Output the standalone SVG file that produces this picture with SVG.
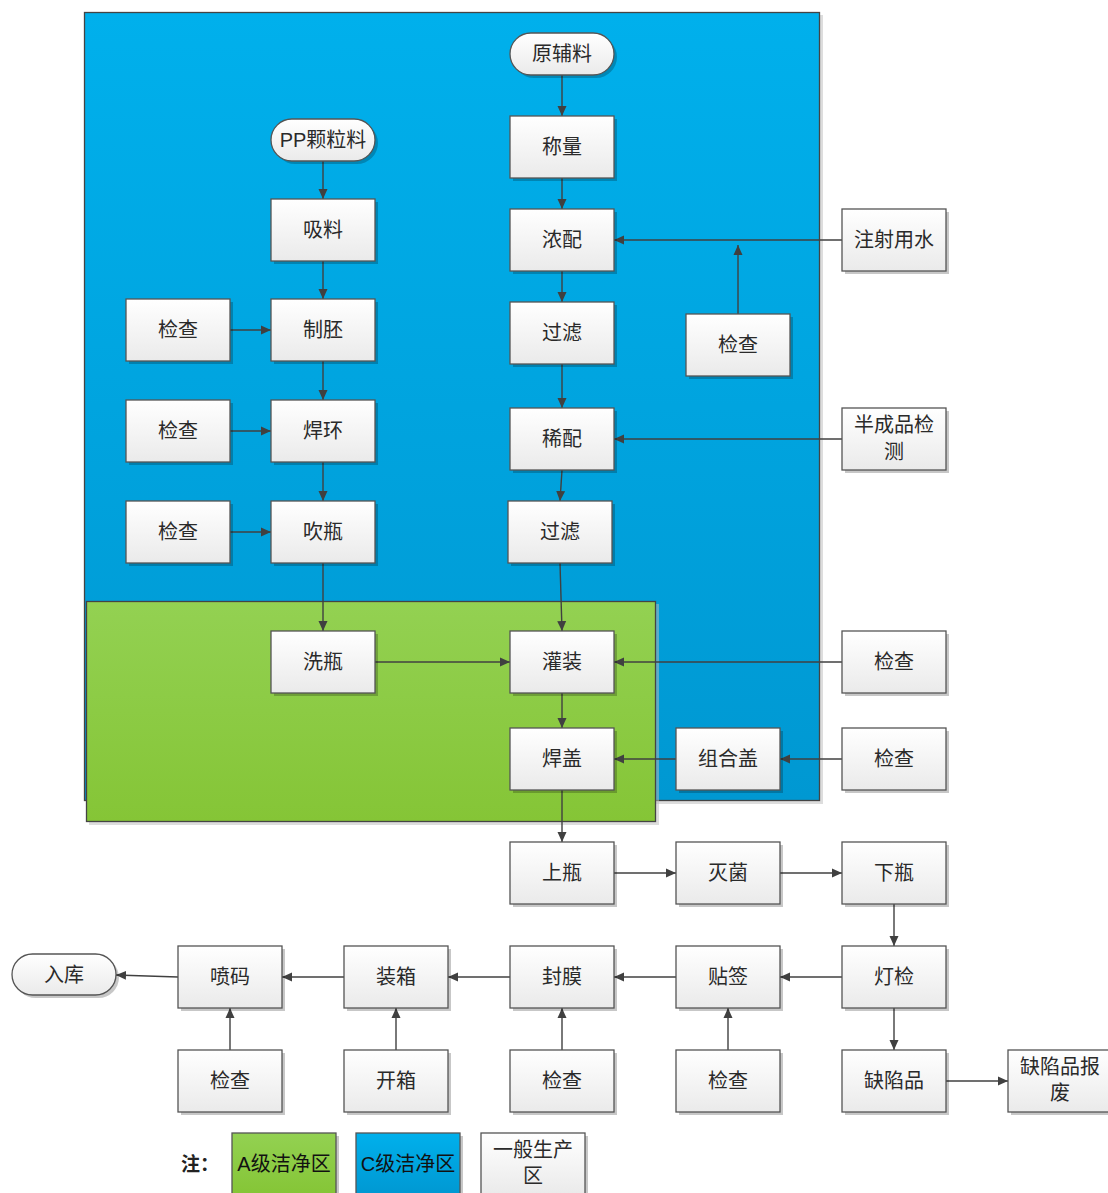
<svg xmlns="http://www.w3.org/2000/svg" width="1108" height="1193" viewBox="0 0 1108 1193">
<defs>
<linearGradient id="gBox" x1="0" y1="0" x2="0" y2="1"><stop offset="0" stop-color="#ffffff"/><stop offset="1" stop-color="#eaeaea"/></linearGradient>
<linearGradient id="gBlue" x1="0" y1="0" x2="0" y2="1"><stop offset="0" stop-color="#00b0ec"/><stop offset="1" stop-color="#0098d2"/></linearGradient>
<linearGradient id="gGreen" x1="0" y1="0" x2="0" y2="1"><stop offset="0" stop-color="#93d152"/><stop offset="1" stop-color="#85c536"/></linearGradient>
<marker id="ah" viewBox="0 0 10 10" refX="10" refY="5" markerWidth="10" markerHeight="10" markerUnits="userSpaceOnUse" orient="auto"><path d="M0,0.5 L10,5 L0,9.5 Z" fill="#404040"/></marker>
</defs>
<style>
.box{fill:url(#gBox);stroke:#555;stroke-width:1.3}
.sh{fill:#000;opacity:0.22}
.t{font-family:"Liberation Serif","Noto Sans CJK SC",serif;font-size:20px;fill:#2a2a2a;text-anchor:middle;dominant-baseline:central}
.c{fill:none;stroke:#404040;stroke-width:1.4;marker-end:url(#ah)}
.l{fill:none;stroke:#404040;stroke-width:1.4}
</style>
<rect width="1108" height="1193" fill="#fff"/>
<g id="zoneC">
<rect x="87" y="15" width="736" height="789" fill="#bbb" opacity="0.5"/>
<rect x="84.5" y="12.5" width="735" height="788" fill="url(#gBlue)" stroke="#444" stroke-width="1.3"/>
</g>
<g id="zoneA">
<rect x="89" y="604" width="570" height="221" fill="#bbb" opacity="0.5"/>
<rect x="86.5" y="601.5" width="569" height="220" fill="url(#gGreen)" stroke="#444" stroke-width="1.3"/>
</g>
<g id="connectors">
<path class="c" d="M562,75 L562,116"/>
<path class="c" d="M562,178 L562,209"/>
<path class="c" d="M562,271 L562,302"/>
<path class="c" d="M562,364 L562,408"/>
<path class="c" d="M562,470 L560,501"/>
<path class="c" d="M560,563 L562,631"/>
<path class="c" d="M562,693 L562,728"/>
<path class="c" d="M562,790 L562,842"/>
<path class="c" d="M842,240 L614,240"/>
<path class="c" d="M738,314 L738,245"/>
<path class="c" d="M842,439 L614,439"/>
<path class="c" d="M323,161 L323,199"/>
<path class="c" d="M323,261 L323,299"/>
<path class="c" d="M323,361 L323,400"/>
<path class="c" d="M323,462 L323,501"/>
<path class="c" d="M323,563 L323,631"/>
<path class="c" d="M230,330 L271,330"/>
<path class="c" d="M230,431 L271,431"/>
<path class="c" d="M230,532 L271,532"/>
<path class="c" d="M375,662 L510,662"/>
<path class="c" d="M842,662 L614,662"/>
<path class="c" d="M676,759 L614,759"/>
<path class="c" d="M842,759 L780,759"/>
<path class="c" d="M614,873 L676,873"/>
<path class="c" d="M780,873 L842,873"/>
<path class="c" d="M894,904 L894,946"/>
<path class="c" d="M842,977 L780,977"/>
<path class="c" d="M676,977 L614,977"/>
<path class="c" d="M510,977 L448,977"/>
<path class="c" d="M344,977 L282,977"/>
<path class="c" d="M178,977 L116,975"/>
<path class="c" d="M230,1050 L230,1008"/>
<path class="c" d="M396,1050 L396,1008"/>
<path class="c" d="M562,1050 L562,1008"/>
<path class="c" d="M728,1050 L728,1008"/>
<path class="c" d="M894,1008 L894,1050"/>
<path class="c" d="M946,1081 L1008,1081"/>
</g>
<g id="n_yuanfuliao"><rect class="sh" x="513" y="36" width="104" height="42" rx="21"/><rect class="box" x="510" y="33" width="104" height="42" rx="21"/><text class="t" x="562" y="54">原辅料</text></g>
<g id="n_chengliang"><rect class="sh" x="513" y="119" width="104" height="62"/><rect class="box" x="510" y="116" width="104" height="62"/><text class="t" x="562" y="147">称量</text></g>
<g id="n_nongpei"><rect class="sh" x="513" y="212" width="104" height="62"/><rect class="box" x="510" y="209" width="104" height="62"/><text class="t" x="562" y="240">浓配</text></g>
<g id="n_guolv1"><rect class="sh" x="513" y="305" width="104" height="62"/><rect class="box" x="510" y="302" width="104" height="62"/><text class="t" x="562" y="333">过滤</text></g>
<g id="n_xipei"><rect class="sh" x="513" y="411" width="104" height="62"/><rect class="box" x="510" y="408" width="104" height="62"/><text class="t" x="562" y="439">稀配</text></g>
<g id="n_guolv2"><rect class="sh" x="511" y="504" width="104" height="62"/><rect class="box" x="508" y="501" width="104" height="62"/><text class="t" x="560" y="532">过滤</text></g>
<g id="n_guanzhuang"><rect class="sh" x="513" y="634" width="104" height="62"/><rect class="box" x="510" y="631" width="104" height="62"/><text class="t" x="562" y="662">灌装</text></g>
<g id="n_hangai"><rect class="sh" x="513" y="731" width="104" height="62"/><rect class="box" x="510" y="728" width="104" height="62"/><text class="t" x="562" y="759">焊盖</text></g>
<g id="n_pp"><rect class="sh" x="274" y="122" width="104" height="42" rx="21"/><rect class="box" x="271" y="119" width="104" height="42" rx="21"/><text class="t" x="323" y="140"><tspan font-family="Liberation Sans, sans-serif">PP</tspan>颗粒料</text></g>
<g id="n_xiliao"><rect class="sh" x="274" y="202" width="104" height="62"/><rect class="box" x="271" y="199" width="104" height="62"/><text class="t" x="323" y="230">吸料</text></g>
<g id="n_zhipei"><rect class="sh" x="274" y="302" width="104" height="62"/><rect class="box" x="271" y="299" width="104" height="62"/><text class="t" x="323" y="330">制胚</text></g>
<g id="n_hanhuan"><rect class="sh" x="274" y="403" width="104" height="62"/><rect class="box" x="271" y="400" width="104" height="62"/><text class="t" x="323" y="431">焊环</text></g>
<g id="n_chuiping"><rect class="sh" x="274" y="504" width="104" height="62"/><rect class="box" x="271" y="501" width="104" height="62"/><text class="t" x="323" y="532">吹瓶</text></g>
<g id="n_xiping"><rect class="sh" x="274" y="634" width="104" height="62"/><rect class="box" x="271" y="631" width="104" height="62"/><text class="t" x="323" y="662">洗瓶</text></g>
<g id="n_jc1"><rect class="sh" x="129" y="302" width="104" height="62"/><rect class="box" x="126" y="299" width="104" height="62"/><text class="t" x="178" y="330">检查</text></g>
<g id="n_jc2"><rect class="sh" x="129" y="403" width="104" height="62"/><rect class="box" x="126" y="400" width="104" height="62"/><text class="t" x="178" y="431">检查</text></g>
<g id="n_jc3"><rect class="sh" x="129" y="504" width="104" height="62"/><rect class="box" x="126" y="501" width="104" height="62"/><text class="t" x="178" y="532">检查</text></g>
<g id="n_jc4"><rect class="sh" x="689" y="317" width="104" height="62"/><rect class="box" x="686" y="314" width="104" height="62"/><text class="t" x="738" y="345">检查</text></g>
<g id="n_zhusheyongshui"><rect class="sh" x="845" y="212" width="104" height="62"/><rect class="box" x="842" y="209" width="104" height="62"/><text class="t" x="894" y="240">注射用水</text></g>
<g id="n_banchengpin"><rect class="sh" x="845" y="411" width="104" height="62"/><rect class="box" x="842" y="408" width="104" height="62"/><text class="t" x="894" y="425">半成品检</text><text class="t" x="894" y="452">测</text></g>
<g id="n_jc5"><rect class="sh" x="845" y="634" width="104" height="62"/><rect class="box" x="842" y="631" width="104" height="62"/><text class="t" x="894" y="662">检查</text></g>
<g id="n_zuhegai"><rect class="sh" x="679" y="731" width="104" height="62"/><rect class="box" x="676" y="728" width="104" height="62"/><text class="t" x="728" y="759">组合盖</text></g>
<g id="n_jc6"><rect class="sh" x="845" y="731" width="104" height="62"/><rect class="box" x="842" y="728" width="104" height="62"/><text class="t" x="894" y="759">检查</text></g>
<g id="n_shangping"><rect class="sh" x="513" y="845" width="104" height="62"/><rect class="box" x="510" y="842" width="104" height="62"/><text class="t" x="562" y="873">上瓶</text></g>
<g id="n_miejun"><rect class="sh" x="679" y="845" width="104" height="62"/><rect class="box" x="676" y="842" width="104" height="62"/><text class="t" x="728" y="873">灭菌</text></g>
<g id="n_xiaping"><rect class="sh" x="845" y="845" width="104" height="62"/><rect class="box" x="842" y="842" width="104" height="62"/><text class="t" x="894" y="873">下瓶</text></g>
<g id="n_dengjian"><rect class="sh" x="845" y="949" width="104" height="62"/><rect class="box" x="842" y="946" width="104" height="62"/><text class="t" x="894" y="977">灯检</text></g>
<g id="n_tieqian"><rect class="sh" x="679" y="949" width="104" height="62"/><rect class="box" x="676" y="946" width="104" height="62"/><text class="t" x="728" y="977">贴签</text></g>
<g id="n_fengmo"><rect class="sh" x="513" y="949" width="104" height="62"/><rect class="box" x="510" y="946" width="104" height="62"/><text class="t" x="562" y="977">封膜</text></g>
<g id="n_zhuangxiang"><rect class="sh" x="347" y="949" width="104" height="62"/><rect class="box" x="344" y="946" width="104" height="62"/><text class="t" x="396" y="977">装箱</text></g>
<g id="n_penma"><rect class="sh" x="181" y="949" width="104" height="62"/><rect class="box" x="178" y="946" width="104" height="62"/><text class="t" x="230" y="977">喷码</text></g>
<g id="n_ruku"><rect class="sh" x="15" y="957" width="104" height="41" rx="20.5"/><rect class="box" x="12" y="954" width="104" height="41" rx="20.5"/><text class="t" x="64" y="975">入库</text></g>
<g id="n_jc7"><rect class="sh" x="181" y="1053" width="104" height="62"/><rect class="box" x="178" y="1050" width="104" height="62"/><text class="t" x="230" y="1081">检查</text></g>
<g id="n_kaixiang"><rect class="sh" x="347" y="1053" width="104" height="62"/><rect class="box" x="344" y="1050" width="104" height="62"/><text class="t" x="396" y="1081">开箱</text></g>
<g id="n_jc8"><rect class="sh" x="513" y="1053" width="104" height="62"/><rect class="box" x="510" y="1050" width="104" height="62"/><text class="t" x="562" y="1081">检查</text></g>
<g id="n_jc9"><rect class="sh" x="679" y="1053" width="104" height="62"/><rect class="box" x="676" y="1050" width="104" height="62"/><text class="t" x="728" y="1081">检查</text></g>
<g id="n_quexianpin"><rect class="sh" x="845" y="1053" width="104" height="62"/><rect class="box" x="842" y="1050" width="104" height="62"/><text class="t" x="894" y="1081">缺陷品</text></g>
<g id="n_baofei"><rect class="sh" x="1011" y="1053" width="104" height="62"/><rect class="box" x="1008" y="1050" width="104" height="62"/><text class="t" x="1060" y="1067">缺陷品报</text><text class="t" x="1060" y="1093">废</text></g>
<g id="legend">
<text x="181" y="1164" font-family="Liberation Serif,'Noto Sans CJK SC',serif" font-size="19" font-weight="bold" fill="#222" dominant-baseline="central">注：</text>
<rect class="sh" x="235" y="1136" width="104" height="62"/>
<rect x="232" y="1133" width="104" height="62" fill="url(#gGreen)" stroke="#555" stroke-width="1.3"/>
<text class="t" x="284" y="1164" style="fill:#111"><tspan font-family="Liberation Sans, sans-serif">A</tspan>级洁净区</text>
<rect class="sh" x="359" y="1136" width="104" height="62"/>
<rect x="356" y="1133" width="104" height="62" fill="url(#gBlue)" stroke="#555" stroke-width="1.3"/>
<text class="t" x="408" y="1164" style="fill:#111"><tspan font-family="Liberation Sans, sans-serif">C</tspan>级洁净区</text>
<rect class="sh" x="484" y="1136" width="104" height="62"/>
<rect class="box" x="481" y="1133" width="104" height="62"/>
<text class="t" x="533" y="1150">一般生产</text>
<text class="t" x="533" y="1176">区</text>
</g>
</svg>
